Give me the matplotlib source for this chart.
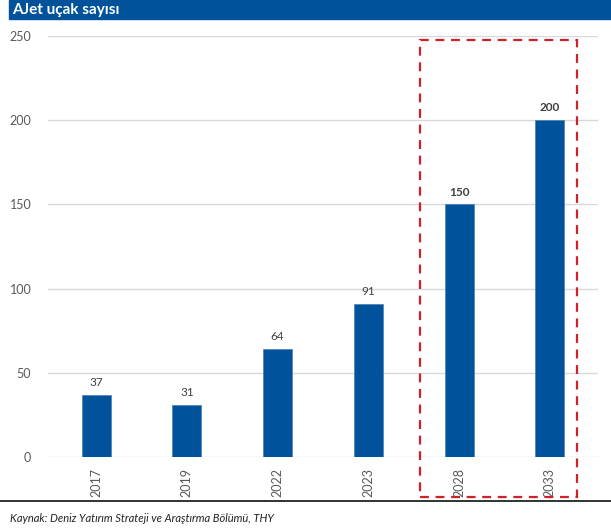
import matplotlib.pyplot as plt
import matplotlib.patches as patches
import numpy as np

# Veriler
years = ['2017', '2019', '2022', '2023', '2028', '2033']
planes = [37, 31, 64, 91, 150, 200]
bold_flags = [False, False, False, False, True, True]

title = 'AJet uçak sayısı'
source = 'Kaynak: Deniz Yatırım Strateji ve Araştırma Bölümü, THY'

blue = '#00529b'
text_gray = '#404040'

plt.rcParams['font.family'] = ['Lato', 'DejaVu Sans']

fig = plt.figure(figsize=(6.11, 5.31), dpi=100)
ax = fig.add_axes([48 / 611, 1 - 457 / 531, 550 / 611, 421 / 531])

x = np.arange(len(years))
ax.bar(x, planes, width=0.32, color=blue, edgecolor='#4a7fb8', linewidth=0.5, zorder=3)

for xi, v, b in zip(x, planes, bold_flags):
    ax.text(xi, v + 4, str(v), ha='center', va='bottom', fontsize=8.5,
            color=text_gray, fontweight='bold' if b else 'normal')

ax.set_xlim(-0.53, len(years) - 0.47)
ax.set_ylim(0, 250)
ax.set_yticks(np.arange(0, 251, 50))
ax.set_xticks(x)
ax.set_xticklabels(years, rotation=90)
ax.grid(axis='y', color='#d9d9d9', linewidth=1, zorder=0)
for s in ax.spines.values():
    s.set_visible(False)
ax.tick_params(axis='both', length=0, labelsize=9, colors='#595959')
ax.tick_params(axis='y', pad=12)
ax.tick_params(axis='x', pad=8)

# Tahmin bölgesi çerçevesi
rect = patches.Rectangle((3.57, -23.5), 1.73, 271, fill=False, edgecolor='#d0202a',
                         linestyle=(0, (4, 3)), linewidth=1.6, clip_on=False,
                         transform=ax.transData, zorder=4)
ax.add_patch(rect)

# Başlık bandı
fig.patches.append(patches.Rectangle((9 / 611, 1 - 19 / 531), 1, 19 / 531,
                                     transform=fig.transFigure, color=blue, zorder=0))
fig.text(12 / 611, 1 - 10 / 531, title, color='white', fontsize=11,
         fontweight='bold', va='center', ha='left')

# Alt çizgi ve kaynak
fig.add_artist(plt.Line2D([0, 1], [1 - 501 / 531] * 2, color='#222222', linewidth=1.3,
                          transform=fig.transFigure))
fig.text(10 / 611, 1 - 518 / 531, source, fontsize=8, style='italic',
         color='#222222', va='center', ha='left')

plt.savefig('out.png', dpi=100)
plt.close()
